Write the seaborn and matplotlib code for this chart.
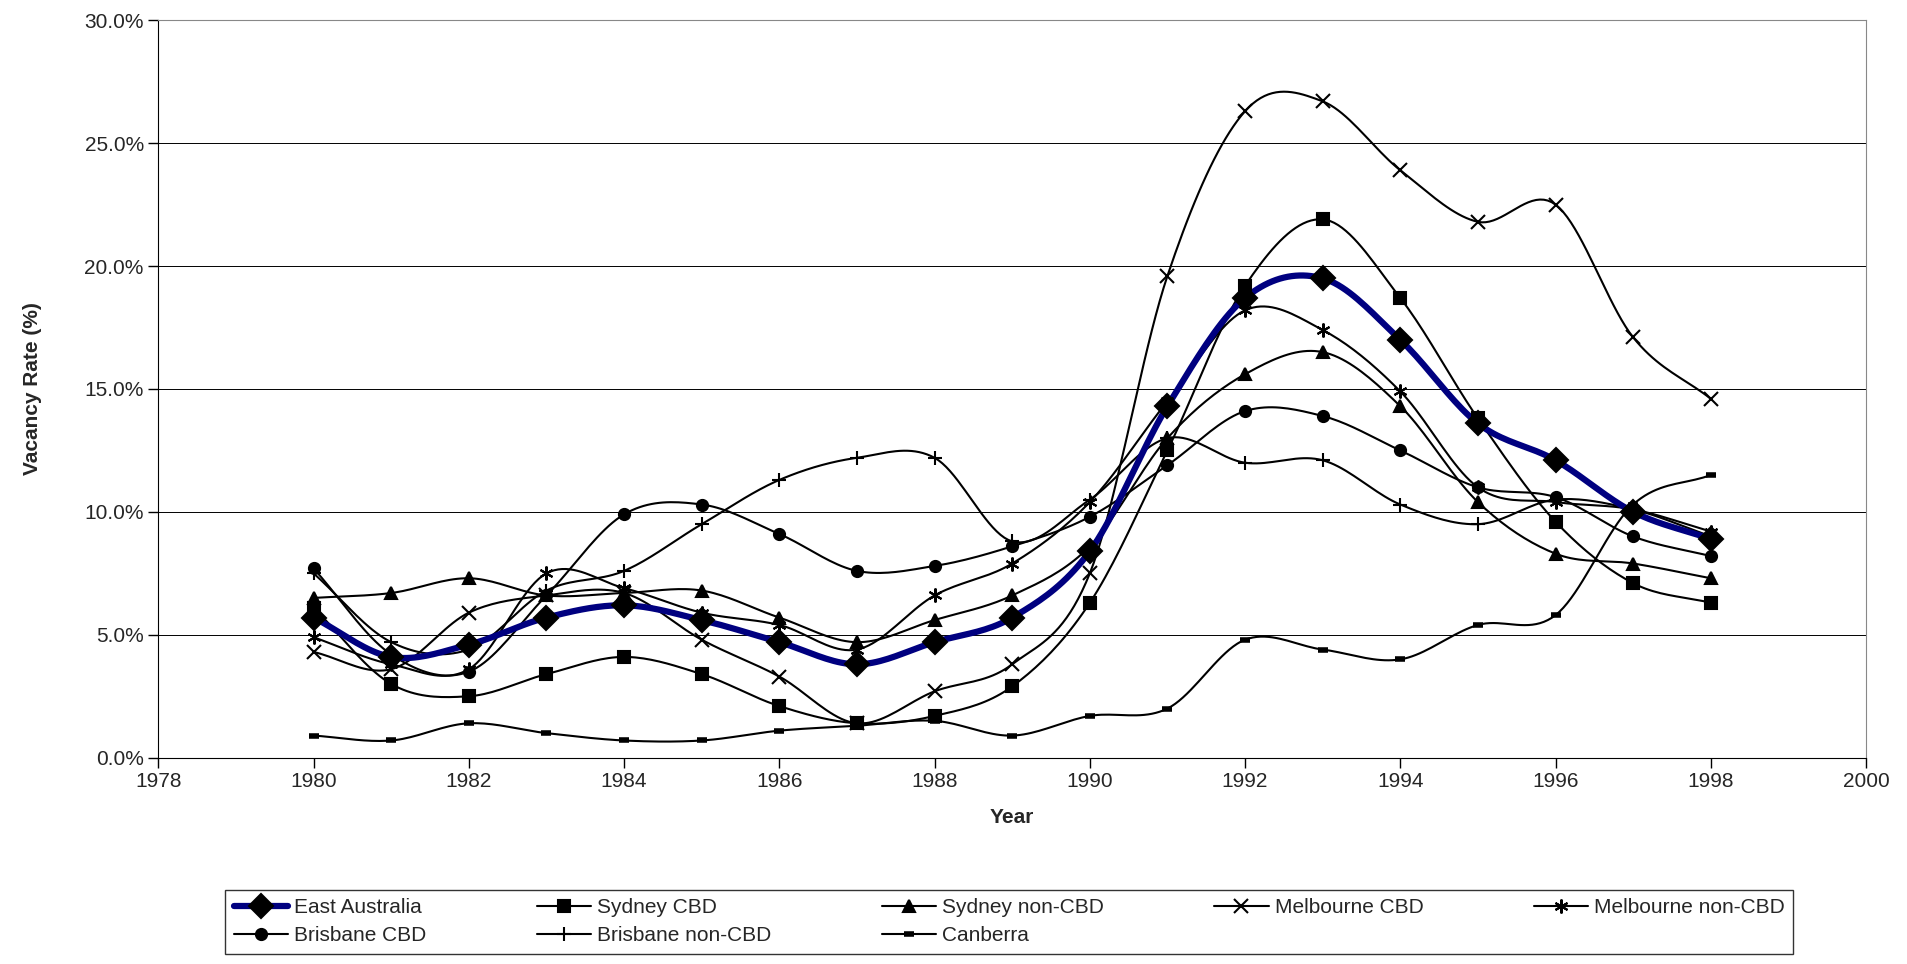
import numpy as np
import matplotlib
matplotlib.use("Agg")
import matplotlib.pyplot as plt
import seaborn as sns
from matplotlib.ticker import FuncFormatter

years = list(range(1980, 1999))
east_australia = [5.7, 4.1, 4.6, 5.7, 6.2, 5.6, 4.7, 3.8, 4.7, 5.7, 8.4, 14.3, 18.7, 19.5, 17.0, 13.6, 12.1, 10.0, 8.9]
sydney_cbd = [6.1, 3.0, 2.5, 3.4, 4.1, 3.4, 2.1, 1.4, 1.7, 2.9, 6.3, 12.5, 19.2, 21.9, 18.7, 13.8, 9.6, 7.1, 6.3]
sydney_non = [6.5, 6.7, 7.3, 6.6, 6.7, 6.8, 5.7, 4.7, 5.6, 6.6, 8.6, 13.0, 15.6, 16.5, 14.3, 10.4, 8.3, 7.9, 7.3]
melb_cbd = [4.3, 3.6, 5.9, 6.6, 6.7, 4.8, 3.3, 1.4, 2.7, 3.8, 7.5, 19.6, 26.3, 26.7, 23.9, 21.8, 22.5, 17.1, 14.6]
melb_non = [4.9, 3.8, 3.6, 7.5, 6.9, 5.9, 5.4, 4.4, 6.6, 7.9, 10.4, 14.5, 18.2, 17.4, 14.9, 11.0, 10.4, 10.1, 9.2]
bris_cbd = [7.7, 4.2, 3.5, 6.6, 9.9, 10.3, 9.1, 7.6, 7.8, 8.6, 9.8, 11.9, 14.1, 13.9, 12.5, 11.0, 10.6, 9.0, 8.2]
bris_non = [7.5, 4.7, 4.4, 6.8, 7.6, 9.5, 11.3, 12.2, 12.2, 8.8, 10.5, 13.0, 12.0, 12.1, 10.3, 9.5, 10.5, 10.1, 9.0]
canberra = [0.9, 0.7, 1.4, 1.0, 0.7, 0.7, 1.1, 1.3, 1.5, 0.9, 1.7, 2.0, 4.8, 4.4, 4.0, 5.4, 5.8, 10.3, 11.5]

series = [
    ("East Australia", east_australia, "D"),
    ("Sydney CBD", sydney_cbd, "s"),
    ("Sydney non-CBD", sydney_non, "^"),
    ("Melbourne CBD", melb_cbd, "x"),
    ("Melbourne non-CBD", melb_non, (6, 2, 0)),
    ("Brisbane CBD", bris_cbd, "o"),
    ("Brisbane non-CBD", bris_non, "+"),
    ("Canberra", canberra, "_"),
]

def smooth(x, y, n=20):
    x = np.asarray(x, float); y = np.asarray(y, float)
    px = np.concatenate([[2*x[0]-x[1]], x, [2*x[-1]-x[-2]]])
    py = np.concatenate([[2*y[0]-y[1]], y, [2*y[-1]-y[-2]]])
    xs, ys = [], []
    t = np.linspace(0, 1, n, endpoint=False)
    for i in range(1, len(px)-2):
        for P, out in ((px, xs), (py, ys)):
            p0, p1, p2, p3 = P[i-1], P[i], P[i+1], P[i+2]
            out.extend(0.5*((2*p1) + (-p0+p2)*t + (2*p0-5*p1+4*p2-p3)*t**2 + (-p0+3*p1-3*p2+p3)*t**3))
    xs.append(x[-1]); ys.append(y[-1])
    return np.array(xs), np.array(ys)

sns.set_style("white")
plt.rcParams['font.family'] = ['Liberation Sans', 'DejaVu Sans']
fig = plt.figure(figsize=(19.08, 9.64), dpi=100)
ax = fig.add_axes([0.083, 0.214, 0.895, 0.765])

handles = []
for name, vals, m in series:
    sx, sy = smooth(years, vals)
    main = name == "East Australia"
    color = "#000080" if main else "black"
    lw = 4.5 if main else 1.5
    sns.lineplot(x=sx, y=sy, ax=ax, color=color, lw=lw, sort=False, estimator=None, zorder=3 if main else 2, legend=False)
    if m == "D":
        ms, mew = 12, 1.5
    elif m in ("s", "^", "o"):
        ms, mew = 8, 1.5
    elif m == "_":
        ms, mew = 7, 4
    else:
        ms, mew = 10, 1.5
    ax.plot(years, vals, linestyle="none", marker=m, color="black", ms=ms, mew=mew, zorder=4)
    h, = ax.plot([], [], color=color, lw=lw, marker=m, mfc="black", mec="black", ms=ms, mew=mew, label=name)
    handles.append(h)

ax.set_xlim(1978, 2000)
ax.set_ylim(0, 30)
ax.set_xticks(range(1978, 2001, 2))
ax.set_yticks(np.arange(0, 31, 5))
ax.yaxis.set_major_formatter(FuncFormatter(lambda v, p: f"{v:.1f}%"))
ax.grid(axis="y", color="black", lw=0.7)
ax.set_axisbelow(True)
for s in ["top", "right"]:
    ax.spines[s].set_color("#888888")
for s in ["left", "bottom"]:
    ax.spines[s].set_color("black")
ax.tick_params(axis="both", direction="out", length=7, width=1, labelsize=15, color="black", bottom=True, left=True)
ax.set_xlabel("Year", fontsize=15, fontweight="bold", labelpad=12)
ax.set_ylabel("Vacancy Rate (%)", fontsize=15, fontweight="bold", labelpad=10)
ax.yaxis.set_label_coords(-0.068, 0.5)

ncol = 5
rows = [handles[:5], handles[5:]]
ordered = []
for c in range(ncol):
    for r in rows:
        if c < len(r):
            ordered.append(r[c])
leg = fig.legend(handles=ordered, labels=[h.get_label() for h in ordered], loc="lower center",
                 bbox_to_anchor=(0.529, 0.0), ncol=ncol, fontsize=15, frameon=True,
                 fancybox=False, edgecolor="black", handlelength=2.6, handletextpad=0.3,
                 columnspacing=5.3, borderpad=0.4, labelspacing=0.45)
leg.get_frame().set_linewidth(1)
fig.savefig("out.png", dpi=100, facecolor="white")
